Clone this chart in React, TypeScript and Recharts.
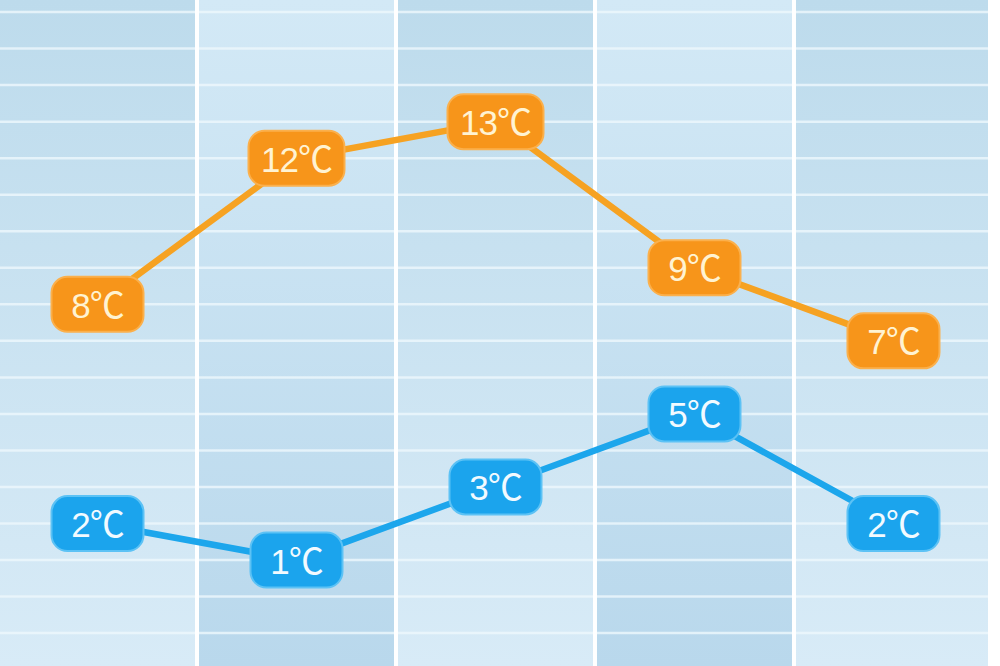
import React from 'react';
import {
  LineChart,
  Line,
  XAxis,
  YAxis,
  ReferenceArea,
  ReferenceLine,
  LabelList,
} from 'recharts';

// five days, high / low temperature in ℃
const days = ['D1', 'D2', 'D3', 'D4', 'D5'];
const highs = [8, 12, 13, 9, 7];
const lows = [2, 1, 3, 5, 2];
const gridValues = [-1, 0, 1, 2, 3, 4, 5, 6, 7, 8, 9, 10, 11, 12, 13, 14, 15, 16];
const columnBreaks = [0.5, 1.5, 2.5, 3.5];

const X_DOMAIN: [number, number] = [-0.49, 4.475];
const Y_DOMAIN: [number, number] = [-1.9, 16.33];

const data = days.map((day, i) => ({ idx: i, day, high: highs[i], low: lows[i] }));

const makeBadge = (fill: string, edge: string, textColor: string) =>
  // eslint-disable-next-line @typescript-eslint/no-explicit-any
  (props: any) => {
    const { x, y, value } = props;
    if (x == null || y == null) return null;
    const w = value >= 10 ? 96 : 92;
    const h = 55;
    return (
      <g>
        <rect
          x={x - w / 2}
          y={y - h / 2}
          width={w}
          height={h}
          rx={16}
          ry={16}
          fill={fill}
          stroke={edge}
          strokeWidth={2}
        />
        <text
          x={x}
          y={y + 1}
          textAnchor="middle"
          dominantBaseline="central"
          fill={textColor}
          fontSize={35}
          fontFamily="'Liberation Sans', Arial, 'Noto Sans CJK SC', sans-serif"
          letterSpacing={-1}
        >
          {`${value}℃`}
        </text>
      </g>
    );
  };

const orangeBadge = makeBadge('#f7951a', '#fbb04c', '#fff3d2');
const blueBadge = makeBadge('#1ba4ed', '#5cc2f5', '#f2faff');

export default function App() {
  return (
    <div style={{ position: 'absolute', left: 0, top: 0, width: 1000, height: 666, background: '#ffffff' }}>
      <LineChart width={1000} height={666} data={data} margin={{ top: 0, right: 12, bottom: 0, left: 0 }}>
        <defs>
          <linearGradient id="colDark" x1="0" y1="0" x2="0" y2="1">
            <stop offset="0%" stopColor="#bddbec" />
            <stop offset="100%" stopColor="#d8ebf7" />
          </linearGradient>
          <linearGradient id="colLight" x1="0" y1="0" x2="0" y2="1">
            <stop offset="0%" stopColor="#d3e9f6" />
            <stop offset="100%" stopColor="#b9d8ec" />
          </linearGradient>
        </defs>
        <XAxis dataKey="idx" type="number" domain={X_DOMAIN} hide allowDataOverflow />
        <YAxis type="number" domain={Y_DOMAIN} hide allowDataOverflow />
        {days.map((d, i) => (
          <ReferenceArea
            key={d}
            x1={Math.max(i - 0.5, X_DOMAIN[0])}
            x2={Math.min(i + 0.5, X_DOMAIN[1])}
            y1={Y_DOMAIN[0]}
            y2={Y_DOMAIN[1]}
            fill={i % 2 === 0 ? 'url(#colDark)' : 'url(#colLight)'}
            fillOpacity={1}
            stroke="none"
          />
        ))}
        {gridValues.map((v) => (
          <ReferenceLine key={`h${v}`} y={v} stroke="#eef7fc" strokeOpacity={0.8} strokeWidth={2.5} />
        ))}
        {columnBreaks.map((v) => (
          <ReferenceLine key={`v${v}`} x={v} stroke="#ffffff" strokeWidth={4} />
        ))}
        <Line
          type="linear"
          dataKey="high"
          stroke="#f6a222"
          strokeWidth={6.5}
          dot={false}
          activeDot={false}
          isAnimationActive={false}
        >
          <LabelList dataKey="high" content={orangeBadge} />
        </Line>
        <Line
          type="linear"
          dataKey="low"
          stroke="#1ca6ec"
          strokeWidth={6.5}
          dot={false}
          activeDot={false}
          isAnimationActive={false}
        >
          <LabelList dataKey="low" content={blueBadge} />
        </Line>
      </LineChart>
    </div>
  );
}
